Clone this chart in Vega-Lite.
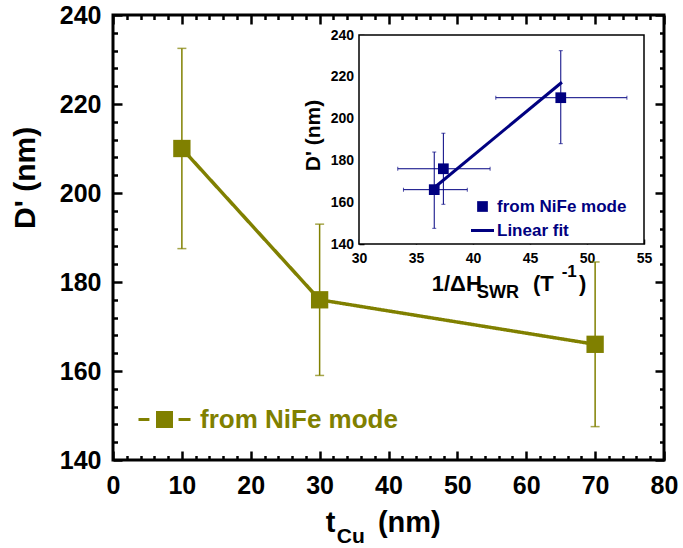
{
  "$schema": "https://vega.github.io/schema/vega-lite/v6.json",
  "width": 551,
  "height": 445,
  "autosize": {"type": "none"},
  "padding": {"left": 113, "top": 15, "right": 19, "bottom": 88},
  "config": {
    "font": "Liberation Sans",
    "view": {"stroke": "black", "strokeWidth": 3},
    "axis": {"grid": false, "domain": false, "title": null, "tickColor": "black", "labelColor": "black", "labelFontWeight": "bold", "labelFlush": false, "labelOverlap": false},
    "text": {"fontWeight": "bold"}
  },
  "datasets": {
    "main": [
      {"t": 10, "D": 210, "lo": 187.5, "hi": 232.5, "series": "from NiFe mode"},
      {"t": 30, "D": 176, "lo": 159, "hi": 193, "series": "from NiFe mode"},
      {"t": 70, "D": 166, "lo": 147.5, "hi": 184.5, "series": "from NiFe mode"}
    ],
    "inset": [
      {"h": 36.6, "D": 166, "hlo": 33.9, "hhi": 39.5, "lo": 147.5, "hi": 184, "series": "from NiFe mode"},
      {"h": 37.4, "D": 176, "hlo": 33.4, "hhi": 41.5, "lo": 159, "hi": 193, "series": "from NiFe mode"},
      {"h": 47.7, "D": 210, "hlo": 42, "hhi": 53.5, "lo": 188, "hi": 232.5, "series": "from NiFe mode"}
    ],
    "fit": [
      {"h": 36.7, "D": 167.4, "series": "Linear fit"},
      {"h": 47.8, "D": 217.4, "series": "Linear fit"}
    ],
    "one": [{}]
  },
  "layer": [
    {
      "resolve": {"axis": {"x": "independent", "y": "independent"}},
      "layer": [
        {
          "data": {"name": "main"},
          "mark": {"type": "rule", "color": "#808000", "strokeWidth": 1.5},
          "encoding": {
            "x": {"field": "t", "type": "quantitative", "scale": {"domain": [0, 80], "nice": false, "zero": false},
              "axis": {"orient": "bottom", "values": [0, 10, 20, 30, 40, 50, 60, 70, 80], "tickSize": -9, "tickWidth": 2.5, "labelFontSize": 25, "labelPadding": 22.5}},
            "y": {"field": "lo", "type": "quantitative", "scale": {"domain": [140, 240], "nice": false, "zero": false},
              "axis": {"orient": "left", "values": [140, 160, 180, 200, 220, 240], "tickSize": -9, "tickWidth": 2.5, "labelFontSize": 25, "labelPadding": 21}},
            "y2": {"field": "hi"}
          }
        },
        {
          "data": {"name": "main"},
          "mark": {"type": "tick", "orient": "horizontal", "color": "#808000", "size": 9, "thickness": 1.5},
          "encoding": {
            "x": {"field": "t", "type": "quantitative", "scale": {"domain": [0, 80], "nice": false, "zero": false},
              "axis": {"orient": "bottom", "values": [2, 4, 6, 8, 12, 14, 16, 18, 22, 24, 26, 28, 32, 34, 36, 38, 42, 44, 46, 48, 52, 54, 56, 58, 62, 64, 66, 68, 72, 74, 76, 78], "tickSize": -4.5, "tickWidth": 2.5, "labels": false}},
            "y": {"field": "lo", "type": "quantitative", "scale": {"domain": [140, 240], "nice": false, "zero": false},
              "axis": {"orient": "left", "values": [144, 148, 152, 156, 164, 168, 172, 176, 184, 188, 192, 196, 204, 208, 212, 216, 224, 228, 232, 236], "tickSize": -4.5, "tickWidth": 2.5, "labels": false}}
          }
        },
        {
          "data": {"name": "main"},
          "mark": {"type": "tick", "orient": "horizontal", "color": "#808000", "size": 9, "thickness": 1.5},
          "encoding": {
            "x": {"field": "t", "type": "quantitative", "scale": {"domain": [0, 80], "nice": false, "zero": false},
              "axis": {"orient": "top", "values": [0, 10, 20, 30, 40, 50, 60, 70, 80], "tickSize": -9, "tickWidth": 2.5, "labels": false}},
            "y": {"field": "hi", "type": "quantitative", "scale": {"domain": [140, 240], "nice": false, "zero": false},
              "axis": {"orient": "right", "values": [140, 160, 180, 200, 220, 240], "tickSize": -9, "tickWidth": 2.5, "labels": false}}
          }
        },
        {
          "data": {"name": "main"},
          "mark": {"type": "line", "color": "#808000", "strokeWidth": 3.5},
          "encoding": {
            "x": {"field": "t", "type": "quantitative", "scale": {"domain": [0, 80], "nice": false, "zero": false},
              "axis": {"orient": "top", "values": [2, 4, 6, 8, 12, 14, 16, 18, 22, 24, 26, 28, 32, 34, 36, 38, 42, 44, 46, 48, 52, 54, 56, 58, 62, 64, 66, 68, 72, 74, 76, 78], "tickSize": -4.5, "tickWidth": 2.5, "labels": false}},
            "y": {"field": "D", "type": "quantitative", "scale": {"domain": [140, 240], "nice": false, "zero": false},
              "axis": {"orient": "right", "values": [144, 148, 152, 156, 164, 168, 172, 176, 184, 188, 192, 196, 204, 208, 212, 216, 224, 228, 232, 236], "tickSize": -4.5, "tickWidth": 2.5, "labels": false}},
            "strokeDash": {"field": "series", "type": "nominal", "scale": {"domain": ["from NiFe mode"], "range": [[1, 0]]},
              "legend": {"orient": "none", "legendX": 24, "legendY": 377, "title": null, "padding": 0, "labelLimit": 0,
                "labelFontSize": 26, "labelFontWeight": "bold", "labelColor": "#808000", "labelOffset": 8, "symbolSize": 2704,
                "symbolType": "M-1,0H-0.58M-0.27,-0.27H0.27V0.27H-0.27ZM0.54,0H1",
                "symbolFillColor": "#808000", "symbolStrokeColor": "#808000", "symbolStrokeWidth": 3, "symbolOpacity": 1,
                "encode": {"symbols": {"update": {
                  "shape": {"signal": "'M-1,0H-0.58M-0.27,-0.27H0.27V0.27H-0.27ZM0.54,0H1'"},
                  "size": {"signal": "2704"},
                  "fill": {"signal": "'#808000'"},
                  "stroke": {"signal": "'#808000'"},
                  "strokeWidth": {"signal": "3"},
                  "strokeDash": {"signal": "[]"},
                  "opacity": {"signal": "1"}
                }}}}}
          }
        },
        {
          "data": {"name": "main"},
          "mark": {"type": "point", "filled": true, "shape": "square", "color": "#808000", "opacity": 1, "size": 300},
          "encoding": {
            "x": {"field": "t", "type": "quantitative", "scale": {"domain": [0, 80], "nice": false, "zero": false}, "axis": null},
            "y": {"field": "D", "type": "quantitative", "scale": {"domain": [140, 240], "nice": false, "zero": false}, "axis": null}
          }
        },
        {
          "data": {"name": "one"},
          "mark": {"type": "text", "fontSize": 30, "angle": 270, "align": "center", "baseline": "middle", "color": "black"},
          "encoding": {
            "x": {"datum": -12.6, "type": "quantitative", "scale": {"domain": [0, 80], "nice": false, "zero": false}, "axis": null},
            "y": {"datum": 203.4, "type": "quantitative", "scale": {"domain": [140, 240], "nice": false, "zero": false}, "axis": null},
            "text": {"value": "D' (nm)"}
          }
        },
        {
          "data": {"name": "one"},
          "mark": {"type": "text", "fontSize": 29, "align": "left", "baseline": "alphabetic", "color": "black"},
          "encoding": {
            "x": {"datum": 30.9, "type": "quantitative", "scale": {"domain": [0, 80], "nice": false, "zero": false}, "axis": null},
            "y": {"datum": 123.75, "type": "quantitative", "scale": {"domain": [140, 240], "nice": false, "zero": false}, "axis": null},
            "text": {"value": "t"}
          }
        },
        {
          "data": {"name": "one"},
          "mark": {"type": "text", "fontSize": 21, "align": "left", "baseline": "alphabetic", "color": "black"},
          "encoding": {
            "x": {"datum": 32.5, "type": "quantitative", "scale": {"domain": [0, 80], "nice": false, "zero": false}, "axis": null},
            "y": {"datum": 121.35, "type": "quantitative", "scale": {"domain": [140, 240], "nice": false, "zero": false}, "axis": null},
            "text": {"value": "Cu"}
          }
        },
        {
          "data": {"name": "one"},
          "mark": {"type": "text", "fontSize": 29, "align": "left", "baseline": "alphabetic", "color": "black"},
          "encoding": {
            "x": {"datum": 38.46, "type": "quantitative", "scale": {"domain": [0, 80], "nice": false, "zero": false}, "axis": null},
            "y": {"datum": 123.75, "type": "quantitative", "scale": {"domain": [140, 240], "nice": false, "zero": false}, "axis": null},
            "text": {"value": "(nm)"}
          }
        }
      ]
    },
    {
      "resolve": {"axis": {"x": "independent", "y": "independent"}},
      "layer": [
        {
          "data": {"name": "one"},
          "mark": {"type": "rect", "fill": "white", "stroke": "black", "strokeWidth": 1.5},
          "encoding": {
            "x": {"datum": 30, "type": "quantitative", "scale": {"domain": [30, 55], "range": [246, 531], "nice": false, "zero": false},
              "axis": {"orient": "bottom", "offset": -216, "values": [30, 35, 40, 45, 50, 55], "tickSize": -5, "tickWidth": 1.5, "labelFontSize": 14, "labelPadding": 12.3}},
            "x2": {"datum": 55},
            "y": {"datum": 140, "type": "quantitative", "scale": {"domain": [140, 240], "range": [229, 20], "nice": false, "zero": false},
              "axis": {"orient": "left", "offset": -246, "values": [140, 160, 180, 200, 220, 240], "tickSize": -5, "tickWidth": 1.5, "labelFontSize": 14, "labelPadding": 10.5}},
            "y2": {"datum": 240}
          }
        },
        {
          "data": {"name": "inset"},
          "mark": {"type": "rule", "color": "#000080", "strokeWidth": 1},
          "encoding": {
            "x": {"field": "hlo", "type": "quantitative", "scale": {"domain": [30, 55], "range": [246, 531], "nice": false, "zero": false}, "axis": null},
            "x2": {"field": "hhi"},
            "y": {"field": "D", "type": "quantitative", "scale": {"domain": [140, 240], "range": [229, 20], "nice": false, "zero": false}, "axis": null}
          }
        },
        {
          "data": {"name": "inset"},
          "mark": {"type": "rule", "color": "#000080", "strokeWidth": 1},
          "encoding": {
            "x": {"field": "h", "type": "quantitative", "scale": {"domain": [30, 55], "range": [246, 531], "nice": false, "zero": false}, "axis": null},
            "y": {"field": "lo", "type": "quantitative", "scale": {"domain": [140, 240], "range": [229, 20], "nice": false, "zero": false}, "axis": null},
            "y2": {"field": "hi"}
          }
        },
        {
          "data": {"name": "inset"},
          "mark": {"type": "tick", "orient": "vertical", "color": "#000080", "size": 4, "thickness": 1},
          "encoding": {
            "x": {"field": "hlo", "type": "quantitative", "scale": {"domain": [30, 55], "range": [246, 531], "nice": false, "zero": false}, "axis": null},
            "y": {"field": "D", "type": "quantitative", "scale": {"domain": [140, 240], "range": [229, 20], "nice": false, "zero": false}, "axis": null}
          }
        },
        {
          "data": {"name": "inset"},
          "mark": {"type": "tick", "orient": "vertical", "color": "#000080", "size": 4, "thickness": 1},
          "encoding": {
            "x": {"field": "hhi", "type": "quantitative", "scale": {"domain": [30, 55], "range": [246, 531], "nice": false, "zero": false}, "axis": null},
            "y": {"field": "D", "type": "quantitative", "scale": {"domain": [140, 240], "range": [229, 20], "nice": false, "zero": false}, "axis": null}
          }
        },
        {
          "data": {"name": "inset"},
          "mark": {"type": "tick", "orient": "horizontal", "color": "#000080", "size": 4, "thickness": 1},
          "encoding": {
            "x": {"field": "h", "type": "quantitative", "scale": {"domain": [30, 55], "range": [246, 531], "nice": false, "zero": false}, "axis": null},
            "y": {"field": "lo", "type": "quantitative", "scale": {"domain": [140, 240], "range": [229, 20], "nice": false, "zero": false}, "axis": null}
          }
        },
        {
          "data": {"name": "inset"},
          "mark": {"type": "tick", "orient": "horizontal", "color": "#000080", "size": 4, "thickness": 1},
          "encoding": {
            "x": {"field": "h", "type": "quantitative", "scale": {"domain": [30, 55], "range": [246, 531], "nice": false, "zero": false}, "axis": null},
            "y": {"field": "hi", "type": "quantitative", "scale": {"domain": [140, 240], "range": [229, 20], "nice": false, "zero": false}, "axis": null}
          }
        },
        {
          "data": {"name": "fit"},
          "mark": {"type": "line", "strokeWidth": 3},
          "encoding": {
            "x": {"field": "h", "type": "quantitative", "scale": {"domain": [30, 55], "range": [246, 531], "nice": false, "zero": false}, "axis": null},
            "y": {"field": "D", "type": "quantitative", "scale": {"domain": [140, 240], "range": [229, 20], "nice": false, "zero": false}, "axis": null},
            "color": {"field": "series", "type": "nominal", "scale": {"domain": ["from NiFe mode", "Linear fit"], "range": ["#000080", "#000080"]},
              "legend": {"orient": "none", "legendX": 361, "legendY": 183, "title": null, "padding": 0, "labelLimit": 0, "labelFontSize": 17, "labelFontWeight": "bold", "labelColor": "#000080", "labelOffset": 6, "rowPadding": 6,
                "encode": {"symbols": {"update": {
                  "shape": {"signal": "datum.value === 'Linear fit' ? 'stroke' : 'square'"},
                  "size": {"signal": "datum.value === 'Linear fit' ? 529 : 115"},
                  "fill": {"value": "#000080"},
                  "stroke": {"value": "#000080"},
                  "strokeWidth": {"signal": "datum.value === 'Linear fit' ? 3 : 0"},
                  "opacity": {"value": 1}
                }}}}}
          }
        },
        {
          "data": {"name": "inset"},
          "mark": {"type": "point", "filled": true, "shape": "square", "size": 115, "opacity": 1},
          "encoding": {
            "x": {"field": "h", "type": "quantitative", "scale": {"domain": [30, 55], "range": [246, 531], "nice": false, "zero": false}, "axis": null},
            "y": {"field": "D", "type": "quantitative", "scale": {"domain": [140, 240], "range": [229, 20], "nice": false, "zero": false}, "axis": null},
            "color": {"field": "series", "type": "nominal"}
          }
        },
        {
          "data": {"name": "one"},
          "mark": {"type": "text", "fontSize": 21, "angle": 270, "align": "center", "baseline": "middle", "color": "black"},
          "encoding": {
            "x": {"datum": 26.05, "type": "quantitative", "scale": {"domain": [30, 55], "range": [246, 531], "nice": false, "zero": false}, "axis": null},
            "y": {"datum": 191.9, "type": "quantitative", "scale": {"domain": [140, 240], "range": [229, 20], "nice": false, "zero": false}, "axis": null},
            "text": {"value": "D' (nm)"}
          }
        },
        {
          "data": {"name": "one"},
          "mark": {"type": "text", "fontSize": 22, "align": "left", "baseline": "alphabetic", "color": "black"},
          "encoding": {
            "x": {"datum": 36.38, "type": "quantitative", "scale": {"domain": [30, 55], "range": [246, 531], "nice": false, "zero": false}, "axis": null},
            "y": {"datum": 117.7, "type": "quantitative", "scale": {"domain": [140, 240], "range": [229, 20], "nice": false, "zero": false}, "axis": null},
            "text": {"value": "1/ΔH"}
          }
        },
        {
          "data": {"name": "one"},
          "mark": {"type": "text", "fontSize": 18, "align": "left", "baseline": "alphabetic", "color": "black"},
          "encoding": {
            "x": {"datum": 40.35, "type": "quantitative", "scale": {"domain": [30, 55], "range": [246, 531], "nice": false, "zero": false}, "axis": null},
            "y": {"datum": 114.2, "type": "quantitative", "scale": {"domain": [140, 240], "range": [229, 20], "nice": false, "zero": false}, "axis": null},
            "text": {"value": "SWR"}
          }
        },
        {
          "data": {"name": "one"},
          "mark": {"type": "text", "fontSize": 22, "align": "left", "baseline": "alphabetic", "color": "black"},
          "encoding": {
            "x": {"datum": 45.26, "type": "quantitative", "scale": {"domain": [30, 55], "range": [246, 531], "nice": false, "zero": false}, "axis": null},
            "y": {"datum": 117.7, "type": "quantitative", "scale": {"domain": [140, 240], "range": [229, 20], "nice": false, "zero": false}, "axis": null},
            "text": {"value": "(T"}
          }
        },
        {
          "data": {"name": "one"},
          "mark": {"type": "text", "fontSize": 17, "align": "left", "baseline": "alphabetic", "color": "black"},
          "encoding": {
            "x": {"datum": 47.78, "type": "quantitative", "scale": {"domain": [30, 55], "range": [246, 531], "nice": false, "zero": false}, "axis": null},
            "y": {"datum": 124.4, "type": "quantitative", "scale": {"domain": [140, 240], "range": [229, 20], "nice": false, "zero": false}, "axis": null},
            "text": {"value": "-1"}
          }
        },
        {
          "data": {"name": "one"},
          "mark": {"type": "text", "fontSize": 22, "align": "left", "baseline": "alphabetic", "color": "black"},
          "encoding": {
            "x": {"datum": 49.3, "type": "quantitative", "scale": {"domain": [30, 55], "range": [246, 531], "nice": false, "zero": false}, "axis": null},
            "y": {"datum": 117.7, "type": "quantitative", "scale": {"domain": [140, 240], "range": [229, 20], "nice": false, "zero": false}, "axis": null},
            "text": {"value": ")"}
          }
        }
      ]
    }
  ],
  "resolve": {"scale": {"x": "independent", "y": "independent"}}
}
